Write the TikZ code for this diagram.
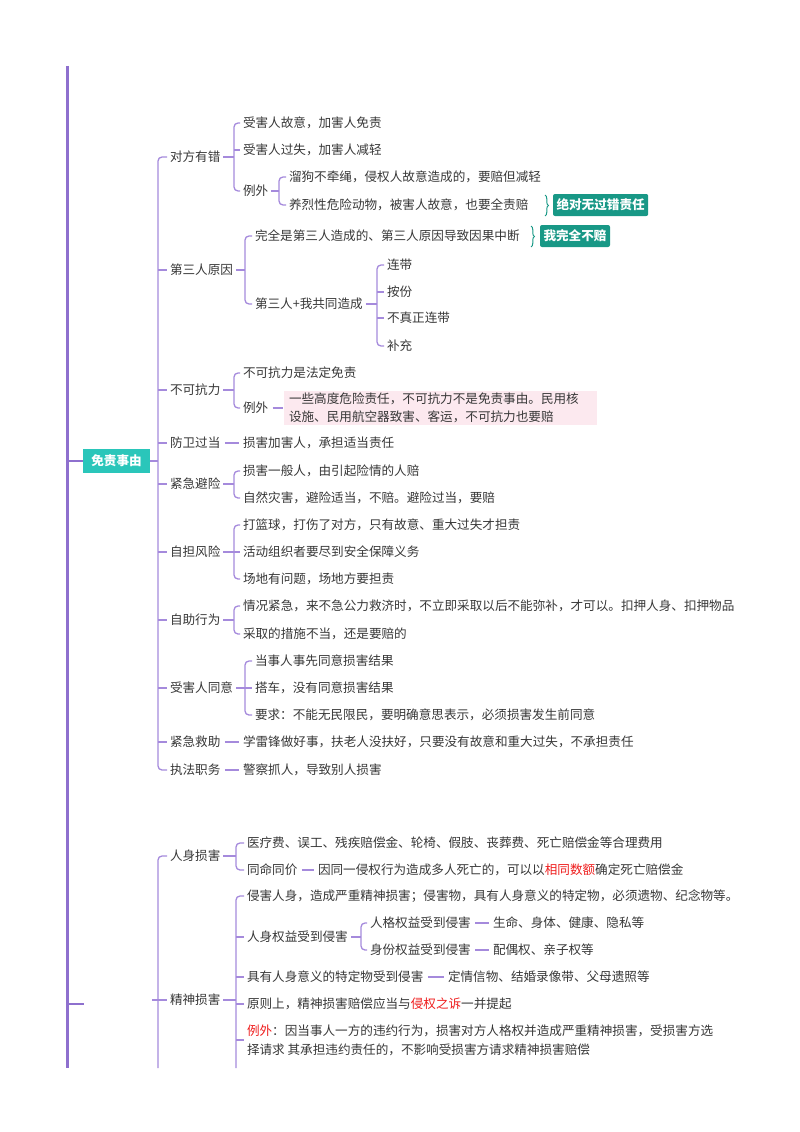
\documentclass[tikz,border=0pt]{standalone}
\usepackage{fontspec}
\setmainfont{Noto Sans CJK SC}
\usetikzlibrary{decorations.pathreplacing}
\definecolor{lc}{RGB}{165,138,220}
\definecolor{mainc}{RGB}{142,112,206}
\definecolor{tc}{RGB}{55,55,55}
\definecolor{rootc}{RGB}{42,198,186}
\definecolor{tagc}{RGB}{24,152,134}
\definecolor{pinkc}{RGB}{252,233,239}
\definecolor{redc}{RGB}{238,28,28}
\newcommand\myfs{\fontsize{12.6}{15}\selectfont}
\newcommand\brk[4]{%
  \draw[conn] (#1) -- (#2,0 |- #1);
  \draw[conn,rounded corners=4pt] (#3.west) -- (#2,0 |- #3.west) -- (#2,0 |- #4.west) -- (#4.west);}
\newcommand\tck[2]{\draw[conn] (#1,0 |- #2.west) -- (#2.west);}
\begin{document}
\begin{tikzpicture}[x=1pt,y=-1pt,
  conn/.style={draw=lc,line width=1.3pt},
  dashc/.style={draw=lc,line width=1.3pt,shorten <=1.5pt,shorten >=1.5pt},
  mainline/.style={draw=mainc,line width=3pt},
  mainbr/.style={draw=mainc,line width=2pt},
  t/.style={anchor=west,inner sep=3pt,outer sep=0pt,text=tc,font=\myfs},
  root/.style={fill=rootc,text=white,font=\myfs\bfseries,minimum width=67,minimum height=24,inner sep=0pt,outer sep=0pt},
  tag/.style={anchor=west,fill=tagc,text=white,font=\myfs\bfseries,rounded corners=2pt,minimum height=22,inner xsep=3.5pt,inner ysep=0pt,outer sep=0pt},
  brc/.style={draw=tagc,line width=1pt,decorate,decoration={brace,amplitude=3.5pt}},
  pinkbox/.style={anchor=west,fill=pinkc,text=tc,font=\fontsize{12.6}{18}\selectfont,align=left,text width=303pt,inner xsep=5pt,inner ysep=1.5pt,outer sep=0pt}]
\useasboundingbox (0,0) rectangle (800,1132);
% main line
\coordinate (mtop) at (67,66);
\coordinate (mbot) at (67,1068);
\draw[mainline] (mtop) -- (mbot);
\node[root] (R1) at (116.5,461) {免责事由};
\draw[mainbr] (mtop |- R1.west) -- (R1.west);
\coordinate (s2) at (84,1004);
\draw[mainbr] (mtop |- s2) -- (s2);
% level 1
\node[t] (n1) at (167,157) {对方有错};
\node[t] (n2) at (167,270) {第三人原因};
\node[t] (n3) at (167,390) {不可抗力};
\node[t] (n4) at (167,443) {防卫过当};
\node[t] (n5) at (167,484) {紧急避险};
\node[t] (n6) at (167,552) {自担风险};
\node[t] (n7) at (167,620) {自助行为};
\node[t] (n8) at (167,688) {受害人同意};
\node[t] (n9) at (167,742) {紧急救助};
\node[t] (n10) at (167,770) {执法职务};
% 对方有错
\node[t] (n11) at (240,123) {受害人故意，加害人免责};
\node[t] (n12) at (240,150) {受害人过失，加害人减轻};
\node[t] (n13) at (240,191) {例外};
\node[t] (n131) at (286,177) {溜狗不牵绳，侵权人故意造成的，要赔但减轻};
\node[t] (n132) at (286,205) {养烈性危险动物，被害人故意，也要全责赔};
\node[tag] (t1) at (553,205) {绝对无过错责任};
\coordinate (b1a) at (545,195);
\coordinate (b1b) at (545,216);
% 第三人原因
\node[t] (n21) at (252,236) {完全是第三人造成的、第三人原因导致因果中断};
\node[tag] (t2) at (540,236) {我完全不赔};
\coordinate (b2a) at (531,226);
\coordinate (b2b) at (531,247);
\node[t] (n22) at (252,304) {第三人+我共同造成};
\node[t] (n221) at (384,265) {连带};
\node[t] (n222) at (384,292) {按份};
\node[t] (n223) at (384,318) {不真正连带};
\node[t] (n224) at (384,346) {补充};
% 不可抗力
\node[t] (n31) at (240,373) {不可抗力是法定免责};
\node[t] (n32) at (240,408) {例外};
\node[pinkbox] (pb) at (284,408) {一些高度危险责任，不可抗力不是免责事由。民用核\\设施、民用航空器致害、客运，不可抗力也要赔};
% others
\node[t] (n41) at (240,443) {损害加害人，承担适当责任};
\node[t] (n51) at (240,471) {损害一般人，由引起险情的人赔};
\node[t] (n52) at (240,498) {自然灾害，避险适当，不赔。避险过当，要赔};
\node[t] (n61) at (240,525) {打篮球，打伤了对方，只有故意、重大过失才担责};
\node[t] (n62) at (240,552) {活动组织者要尽到安全保障义务};
\node[t] (n63) at (240,579) {场地有问题，场地方要担责};
\node[t] (n71) at (240,606) {情况紧急，来不急公力救济时，不立即采取以后不能弥补，才可以。扣押人身、扣押物品};
\node[t] (n72) at (240,634) {采取的措施不当，还是要赔的};
\node[t] (n81) at (252,661) {当事人事先同意损害结果};
\node[t] (n82) at (252,688) {搭车，没有同意损害结果};
\node[t] (n83) at (252,715) {要求：不能无民限民，要明确意思表示，必须损害发生前同意};
\node[t] (n91) at (240,742) {学雷锋做好事，扶老人没扶好，只要没有故意和重大过失，不承担责任};
\node[t] (n101) at (240,770) {警察抓人，导致别人损害};
% connectors part 1
\brk{R1.east}{158}{n1}{n10}
\foreach \ch in {n2,n3,n4,n5,n6,n7,n8,n9} {\tck{158}{\ch}}
\brk{n1.east}{234}{n11}{n13}
\tck{234}{n12}
\brk{n13.east}{279}{n131}{n132}
\draw[brc] (b1a) -- (b1b);
\brk{n2.east}{245}{n21}{n22}
\draw[brc] (b2a) -- (b2b);
\brk{n22.east}{377}{n221}{n224}
\tck{377}{n222}
\tck{377}{n223}
\brk{n3.east}{234}{n31}{n32}
\draw[dashc] (n32.east) -- (pb.west);
\draw[dashc] (n4.east) -- (n41.west);
\brk{n5.east}{234}{n51}{n52}
\brk{n6.east}{234}{n61}{n63}
\tck{234}{n62}
\brk{n7.east}{234}{n71}{n72}
\brk{n8.east}{245}{n81}{n83}
\tck{245}{n82}
\draw[dashc] (n9.east) -- (n91.west);
\draw[dashc] (n10.east) -- (n101.west);
% part 2
\node[t] (m1) at (167,856) {人身损害};
\node[t] (m2) at (167,1000) {精神损害};
\node[t] (m11) at (244,843) {医疗费、误工、残疾赔偿金、轮椅、假肢、丧葬费、死亡赔偿金等合理费用};
\node[t] (m12) at (244,870) {同命同价};
\node[t] (m121) at (315,870) {因同一侵权行为造成多人死亡的，可以以{\color{redc}相同数额}确定死亡赔偿金};
\node[t] (m21) at (244,896) {侵害人身，造成严重精神损害；侵害物，具有人身意义的特定物，必须遗物、纪念物等。};
\node[t] (m22) at (244,937) {人身权益受到侵害};
\node[t] (m221) at (367,923) {人格权益受到侵害};
\node[t] (m2211) at (490,923) {生命、身体、健康、隐私等};
\node[t] (m222) at (367,950) {身份权益受到侵害};
\node[t] (m2221) at (490,950) {配偶权、亲子权等};
\node[t] (m23) at (244,977) {具有人身意义的特定物受到侵害};
\node[t] (m231) at (445,977) {定情信物、结婚录像带、父母遗照等};
\node[t] (m24) at (244,1004) {原则上，精神损害赔偿应当与{\color{redc}侵权之诉}一并提起};
\node[t,align=left,font=\fontsize{12.6}{19}\selectfont] (m25) at (244,1040) {{\color{redc}例外}：因当事人一方的违约行为，损害对方人格权并造成严重精神损害，受损害方选\\择请求 其承担违约责任的，不影响受损害方请求精神损害赔偿};
\coordinate (p2) at (152,1000);
\coordinate (e1) at (158,1068);
\coordinate (e2) at (236,1068);
\draw[conn] (p2) -- (m2.west);
\draw[conn,rounded corners=4pt] (m1.west) -- (158,0 |- m1.west) -- (e1);
\brk{m1.east}{236}{m11}{m12}
\draw[dashc] (m12.east) -- (m121.west);
\draw[conn] (m2.east) -- (236,0 |- m2.east);
\draw[conn,rounded corners=4pt] (m21.west) -- (236,0 |- m21.west) -- (e2);
\foreach \ch in {m22,m23,m24,m25} {\tck{236}{\ch}}
\brk{m22.east}{361}{m221}{m222}
\draw[dashc] (m221.east) -- (m2211.west);
\draw[dashc] (m222.east) -- (m2221.west);
\draw[dashc] (m23.east) -- (m231.west);
\end{tikzpicture}
\end{document}
